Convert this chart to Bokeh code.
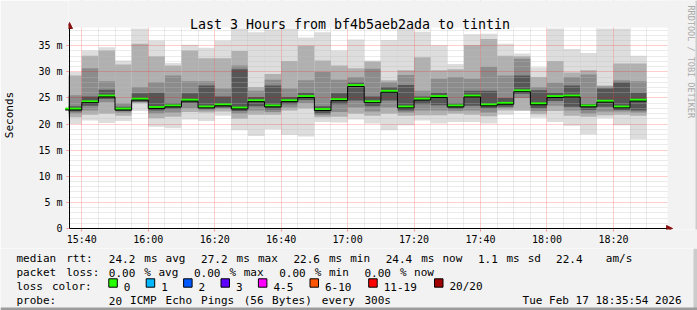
import re
import math
from bokeh.plotting import figure
from bokeh.layouts import column
from bokeh.models import FixedTicker, Label, BoxAnnotation, Arrow, NormalHead, Range1d
from bokeh.core.properties import value
from bokeh.embed import file_html
from bokeh.resources import INLINE

# ---------------- data ----------------
bar_end = ["15:40", "15:45", "15:50", "15:55", "16:00", "16:05", "16:10", "16:15", "16:20",
           "16:25", "16:30", "16:35", "16:40", "16:45", "16:50", "16:55", "17:00", "17:05",
           "17:10", "17:15", "17:20", "17:25", "17:30", "17:35", "17:40", "17:45", "17:50",
           "17:55", "18:00", "18:05", "18:10", "18:15", "18:20", "18:25", "18:30"]

rtt_max = [30.0, 34.1, 34.7, 32.2, 38.3, 36.0, 31.7, 35.2, 34.6, 36.0, 38.3, 37.6, 38.1, 38.3,
           36.6, 37.6, 34.1, 36.2, 32.2, 36.1, 38.4, 37.7, 35.1, 31.5, 37.2, 37.3, 35.4, 33.5,
           30.9, 38.3, 34.4, 33.6, 38.3, 38.3, 33.1]
rtt_min = [20.0, 20.7, 20.2, 20.6, 22.5, 19.5, 19.2, 20.9, 20.6, 21.6, 18.8, 17.7, 19.0, 17.9,
           17.6, 20.4, 20.3, 20.9, 20.1, 18.8, 19.8, 20.7, 20.1, 20.4, 20.4, 20.1, 21.8, 22.5,
           21.2, 20.4, 19.7, 18.0, 21.1, 19.8, 17.1]
rtt_median = [22.7, 24.1, 25.2, 22.7, 24.6, 23.0, 23.3, 24.4, 23.1, 23.5, 22.9, 24.3, 23.3, 24.3,
              25.1, 22.6, 24.5, 27.2, 24.1, 26.1, 23.1, 24.6, 25.1, 23.3, 25.2, 23.5, 23.8, 26.2,
              23.7, 25.1, 25.2, 23.3, 24.2, 23.1, 24.4]
band2_hi = [29.3, 33.1, 34.1, 31.4, 35.4, 33.0, 31.2, 34.1, 32.6, 32.6, 34.0, 27.1, 29.6, 32.1,
            35.0, 32.2, 31.2, 30.7, 32.0, 28.4, 30.3, 32.8, 30.3, 30.5, 35.1, 36.3, 33.1, 33.0,
            29.0, 32.1, 29.9, 30.3, 27.4, 31.6, 31.6]
band2_lo = [21.3, 21.8, 22.0, 21.6, 24.0, 21.1, 21.4, 22.3, 22.2, 22.4, 21.0, 21.8, 21.8, 22.6,
            23.0, 21.3, 21.4, 22.0, 21.6, 22.0, 21.6, 21.7, 21.7, 22.0, 21.8, 21.5, 22.6, 22.6,
            21.9, 22.5, 21.6, 21.4, 21.7, 21.8, 21.6]
band3_hi = [25.5, 30.7, 28.2, 24.0, 27.1, 28.0, 29.3, 28.2, 28.2, 26.8, 31.2, 26.4, 28.5, 26.8,
            28.4, 30.0, 28.5, 29.0, 30.6, 28.0, 29.4, 26.4, 28.7, 29.0, 28.7, 31.0, 29.3, 32.5,
            27.1, 27.9, 29.0, 29.5, 27.2, 28.4, 28.2]
band3_lo = [22.0, 22.6, 24.2, 22.2, 24.2, 22.0, 22.2, 23.0, 22.6, 22.9, 22.0, 22.6, 22.3, 23.2,
            24.0, 21.7, 22.3, 23.2, 22.4, 23.2, 22.2, 22.6, 22.6, 22.5, 22.6, 22.2, 23.0, 25.0,
            22.5, 23.5, 22.6, 22.0, 22.4, 22.4, 22.2]
band4_hi = [23.4, 25.3, 26.6, 23.3, 25.9, 26.0, 24.0, 25.9, 27.4, 25.3, 30.5, 25.2, 27.4, 25.2,
            26.0, 23.4, 25.9, 28.0, 25.3, 27.1, 27.5, 25.3, 26.0, 24.0, 26.4, 26.4, 25.0, 29.3,
            26.5, 26.0, 27.4, 23.9, 26.8, 28.0, 26.0]
band4_lo = [22.4, 23.5, 24.8, 22.5, 24.3, 22.6, 22.9, 24.0, 22.9, 23.2, 22.5, 23.4, 22.8, 23.8,
            24.6, 22.0, 23.8, 24.5, 23.4, 24.5, 22.6, 23.8, 23.6, 22.9, 23.5, 23.0, 23.3, 25.8,
            23.0, 24.4, 23.3, 22.7, 23.3, 22.7, 22.6]

x_tick_labels = ["15:40", "16:00", "16:20", "16:40", "17:00", "17:20", "17:40", "18:00", "18:20"]
y_tick_values = [0, 5, 10, 15, 20, 25, 30, 35]
y_tick_labels = ["0", "5 m", "10 m", "15 m", "20 m", "25 m", "30 m", "35 m"]

title_text = "Last 3 Hours from bf4b5aeb2ada to tintin"
legend_rtt = "median rtt:  24.2 ms avg  27.2 ms max  22.6 ms min  24.4 ms now  1.1 ms sd  22.4   am/s"
legend_loss = "packet loss: 0.00 % avg  0.00 % max  0.00 % min  0.00 % now"
legend_color_title = "loss color:"
loss_labels = ["0", "1", "2", "3", "4-5", "6-10", "11-19", "20/20"]
loss_colors = ["#26ff00", "#00b8ff", "#0059ff", "#5e00ff", "#ff00ff", "#ff5500", "#ff0000", "#a10000"]
legend_probe = "probe:       20 ICMP Echo Pings (56 Bytes) every 300s"
timestamp_text = "Tue Feb 17 18:35:54 2026"
ylabel_text = "Seconds"
credit_text = "RRDTOOL / TOBI OETIKER"

STEP = 5  # minutes per RRD step


def to_min(s):
    h, m = s.split(":")
    return int(h) * 60 + int(m)


ends = [to_min(t) for t in bar_end]
starts = [e - STEP for e in ends]
x_ticks = [to_min(t) for t in x_tick_labels]

# ---------------- geometry ----------------
W, H = 697, 310
HA = 248                     # height of the chart part
PL, PR, PT, PB = 67, 667, 27, 228   # plot area on the canvas
FL, FB = 66, 229             # frame left / bottom of the chart figure (frame reaches top/right edge)
X0, X1 = 936.3, 1116.3       # time span shown in the plot area (minutes of day)
Y1 = 38.5
px_x = (X1 - X0) / (PR - PL)
px_y = Y1 / (PB - PT)
xr = Range1d(X0 - (PL - FL) * px_x, X1 + (W - PR) * px_x)
yr = Range1d(-(FB - PB) * px_y, Y1 + PT * px_y)
BG = "#f2f2f2"
MONO = "DejaVu Sans Mono"

p = figure(width=W, height=HA, output_backend="svg", toolbar_location=None,
           x_range=xr, y_range=yr,
           min_border_left=FL, min_border_right=0, min_border_top=0, min_border_bottom=HA - FB)
p.title.visible = False
p.background_fill_color = "#ffffff"
p.border_fill_color = BG
p.outline_line_color = None
p.frame_align = False

# smoke
shades = [("#dddddd", rtt_max, rtt_min),
          ("#b0b0b0", band2_hi, band2_lo),
          ("#8c8c8c", band3_hi, band3_lo),
          ("#565656", band4_hi, band4_lo)]
for col, hi, lo in shades:
    p.quad(left=starts, right=ends, top=hi, bottom=lo, fill_color=col, line_color=None)

# median band (loss colour 0) and median step line
med_top = [m + 0.45 for m in rtt_median]
p.quad(left=starts, right=ends, top=med_top, bottom=rtt_median,
       fill_color=loss_colors[0], line_color=None, level="overlay")
sx, sy = [], []
for s, e, m in zip(starts, ends, rtt_median):
    sx += [s, e]
    sy += [m, m]
p.line(sx, sy, line_color="#000000", line_width=1, level="overlay")

# background outside the plot area (top strip and right strip)
p.quad(left=[xr.start], right=[xr.end], bottom=[Y1], top=[yr.end], fill_color=BG,
       line_color=None, level="overlay")
p.quad(left=[X1], right=[xr.end], bottom=[yr.start], top=[yr.end], fill_color=BG,
       line_color=None, level="overlay")

# ticks / grid
minor_x = [to_min(t) for t in bar_end if to_min(t) not in x_ticks]
minor_y = [v for v in range(0, 39) if v % 5 != 0]
p.xaxis.ticker = FixedTicker(ticks=x_ticks, minor_ticks=minor_x)
p.yaxis.ticker = FixedTicker(ticks=y_tick_values, minor_ticks=minor_y)
p.xaxis.major_label_overrides = {v: l for v, l in zip(x_ticks, x_tick_labels)}
p.yaxis.major_label_overrides = {v: l for v, l in zip(y_tick_values, y_tick_labels)}

for ax in (p.xaxis[0], p.yaxis[0]):
    ax.axis_line_color = None
    ax.major_tick_in = 0
    ax.major_tick_out = 2
    ax.minor_tick_in = 0
    ax.minor_tick_out = 0
    ax.major_tick_line_color = "#ff0000"
    ax.major_tick_line_alpha = 0.4
    ax.major_label_text_font = MONO
    ax.major_label_text_font_size = "10px"
    ax.major_label_text_color = "#000000"
p.xaxis.major_label_standoff = 2
p.yaxis.major_label_standoff = 4
p.yaxis.axis_label = ylabel_text
p.yaxis.axis_label_text_font = MONO
p.yaxis.axis_label_text_font_size = "11px"
p.yaxis.axis_label_text_font_style = "normal"
p.yaxis.axis_label_text_color = "#000000"
p.yaxis.axis_label_standoff = 19

for g in (p.xgrid[0], p.ygrid[0]):
    g.level = "guide"
    g.grid_line_color = "#ff0000"
    g.grid_line_alpha = 0.38
    g.grid_line_dash = "1 1"
    g.minor_grid_line_color = "#bababa"
    g.minor_grid_line_alpha = 0.6
    g.minor_grid_line_dash = "1 1"
p.xgrid.ticker = FixedTicker(ticks=x_ticks, minor_ticks=minor_x)
p.ygrid.ticker = FixedTicker(ticks=y_tick_values, minor_ticks=minor_y)

# axes with arrow heads
for a in (Arrow(x_start=X0, y_start=0, x_end=X1 + 5 * px_x, y_end=0),
          Arrow(x_start=X0, y_start=0, x_end=X0, y_end=Y1 + 5 * px_y)):
    a.line_color = "#000000"
    a.line_width = 1
    a.level = "overlay"
    a.end = NormalHead(size=6, fill_color="#8b1010", line_color="#8b1010")
    p.add_layout(a)


def sx_(x):
    return x - FL


def sy_(y):
    return FB - y


def add_label(fig, text, x, y, size, align="left", baseline="alphabetic", angle=0, color="#000000"):
    fig.add_layout(Label(x=sx_(x), y=sy_(y), x_units="screen", y_units="screen", text=text,
                         text_font=MONO, text_font_size=size, text_align=align,
                         text_baseline=baseline, angle=angle, text_color=color, level="overlay"))


add_label(p, title_text, 347.5, 24, "13.3px", align="center")
add_label(p, credit_text, 688.5, 5, "8.5px", align="left", baseline="middle", angle=-math.pi / 2,
          color="#a8a8a8")
p.add_layout(BoxAnnotation(left=sx_(W - 4), right=sx_(W), top=sy_(0), bottom=sy_(HA),
                           left_units="screen", right_units="screen", top_units="screen",
                           bottom_units="screen", fill_color="#cbcbcb", fill_alpha=1,
                           line_color=None, level="overlay"))

# ---------------- legend part (canvas-pixel coordinates) ----------------
q = figure(width=W, height=H - HA, output_backend="svg", toolbar_location=None,
           x_range=Range1d(0, W), y_range=Range1d(H, HA),
           x_axis_type=None, y_axis_type=None,
           min_border_left=0, min_border_right=0, min_border_top=0, min_border_bottom=0)
q.title.visible = False
q.background_fill_color = BG
q.border_fill_color = BG
q.outline_line_color = None
q.grid.visible = False
q.frame_align = False

CW = 7.1
LX = 16
tx, ty, tt = [], [], []


def add_line(text, baseline):
    for m in re.finditer(r"\S+", text):
        tx.append(LX + m.start() * CW)
        ty.append(baseline)
        tt.append(m.group(0))


add_line(legend_rtt, 258.3)
add_line(legend_loss, 272.0)
add_line(legend_color_title, 286.0)
add_line(legend_probe, 300.0)

bx = 108.3
box_l, box_r = [], []
for lab in loss_labels:
    box_l.append(bx)
    box_r.append(bx + 8.5)
    tx.append(bx + 15)
    ty.append(286.0)
    tt.append(lab)
    bx += 15 + len(lab) * CW + 15.3

q.text(x=tx, y=ty, text=tt, text_font=value(MONO), text_font_size=value("11px"),
       text_align="left", text_baseline="alphabetic", text_color="#000000")
q.text(x=[681], y=[300.0], text=[timestamp_text], text_font=value(MONO),
       text_font_size=value("11px"), text_align="right", text_baseline="alphabetic",
       text_color="#000000")
q.quad(left=box_l, right=box_r, top=[278.3] * len(box_l), bottom=[286.7] * len(box_l),
       fill_color=loss_colors, line_color="#000000", line_width=1)
q.quad(left=[W - 4], right=[W], top=[HA], bottom=[H], fill_color="#cbcbcb", line_color=None)
q.quad(left=[0], right=[W], top=[H - 3], bottom=[H], fill_color="#9c9c9c", line_color=None)

layout = column(p, q, spacing=0)
open("out.html", "w").write(file_html(layout, INLINE))
